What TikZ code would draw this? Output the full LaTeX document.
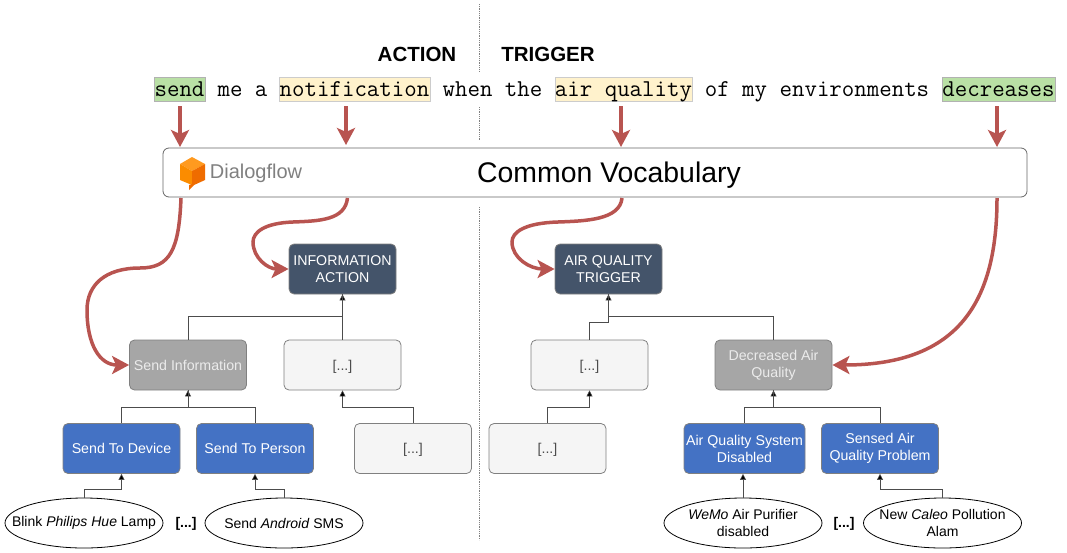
\documentclass[tikz,border=0pt]{standalone}
\usepackage{fontspec}
\setmainfont{Liberation Sans}
\usepackage{tikz}
\usetikzlibrary{arrows.meta,shapes.geometric}
\definecolor{darkbox}{HTML}{44546A}
\definecolor{greybox}{HTML}{A6A6A6}
\definecolor{bluebox}{HTML}{4472C4}
\definecolor{lightbox}{HTML}{F5F5F5}
\definecolor{redarrow}{HTML}{B85450}
\definecolor{greenword}{HTML}{B9E0A5}
\definecolor{yellowword}{HTML}{FFF2CC}
\definecolor{logotop}{HTML}{FF9A1F}
\definecolor{logoleft}{HTML}{FB8C00}
\definecolor{logoright}{HTML}{EF6C00}
\newcommand{\boxfont}{\fontsize{14.2}{17}\selectfont}
\tikzset{
    card/.style={draw=gray, thick, rounded corners=5pt, align=center, inner sep=0pt,
        minimum height=50pt, font=\boxfont},
    topbox/.style={card, fill=darkbox, text=white, minimum width=107pt},
    catbox/.style={card, fill=greybox, text=white!92!black, minimum width=117pt},
    leafbox/.style={card, fill=bluebox, text=white, minimum width=117pt},
    dotsbox/.style={card, fill=lightbox, text=black!70, minimum width=117pt, text depth=0pt},
    sample/.style={draw, thick, ellipse, fill=white, align=center, inner xsep=-24pt, inner ysep=-10pt,
        minimum width=158pt, minimum height=50pt, font=\fontsize{14}{17}\selectfont},
    more/.style={font=\fontsize{14}{17}\selectfont\bfseries},
    word/.style={font=\fontsize{24.2}{26}\selectfont\ttfamily, inner sep=0pt, text height=14pt, text depth=0pt},
    actword/.style={word, draw=gray!60, fill=greenword, minimum height=24pt},
    objword/.style={word, draw=gray!40, fill=yellowword, minimum height=24pt},
    header/.style={font=\fontsize{20.5}{24}\selectfont\bfseries},
    link/.style={draw=black!70, semithick, -{Triangle[length=6pt,width=6pt,fill=black]}},
    plainlink/.style={draw=black!70, semithick},
    bigarrow/.style={draw=redarrow, line width=3.5pt, -{Stealth[length=17pt,width=18pt,inset=4pt]}},
    divider/.style={gray, thick, densely dotted},
}
\begin{document}
\begin{tikzpicture}[x=1pt, y=-1pt]
    \useasboundingbox (0,0) rectangle (1067,552);
    % Divider
    \coordinate (diva) at (479,4);
    \coordinate (divb) at (479,72);
    \coordinate (divc) at (479,107);
    \coordinate (divd) at (479,140);
    \coordinate (dive) at (479,207);
    \coordinate (divf) at (479,540);
    \draw[divider] (diva) -- (divb);
    \draw[divider] (divc) -- (divd);
    \draw[divider] (dive) -- (divf);
    % Headers
    \node[header] (action) at (417,54) {ACTION};
    \node[header] (trigger) at (548,54) {TRIGGER};
    % Sentence
    \node[actword, minimum width=51pt] (send) at (179.5,89.5) {send};
    \node[word] (mea) at (242.5,89.5) {me a};
    \node[objword, minimum width=151pt] (notif) at (354.5,89.5) {notification};
    \node[word] (whenthe) at (492.5,89.5) {when the};
    \node[objword, minimum width=137pt] (airq) at (623.5,89.5) {air quality};
    \node[word] (rest) at (817,89.5) {of my environments};
    \node[actword, minimum width=113pt] (decr) at (998.5,89.5) {decreases};
    % Vocabulary bar
    \node[draw=black!60, thick, fill=white, rounded corners=6pt, minimum width=864pt,
        minimum height=49pt] (vocab) at (595,172.5) {};
    \node[font=\fontsize{28.4}{34}\selectfont] (vocabname) at (609,175) {Common Vocabulary};
    \node[font=\fontsize{20}{24}\selectfont, text=gray] (dialogflow) at (256,173) {Dialogflow};
    % Logo
    \fill[logotop] (192,157) -- (205,164) -- (192,171) -- (180,164) -- cycle;
    \fill[logoleft] (180,164) -- (192,171) -- (192,185) -- (180,180) -- cycle;
    \fill[logoright] (205,164) -- (205,180) -- (194,185) -- (189,190) -- (189,185)
        -- (192,184) -- (192,171) -- cycle;
    % Upper nodes
    \node[topbox] (infoact) at (342.5,269) {INFORMATION\\ACTION};
    \node[topbox] (airtrig) at (608.5,269) {AIR QUALITY\\TRIGGER};
    % Middle nodes
    \node[catbox] (sendinfo) at (188,365) {Send Information};
    \node[dotsbox] (dotsa) at (342.5,365) {[...]};
    \node[dotsbox] (dotsc) at (589.5,365) {[...]};
    \node[catbox] (decair) at (773.5,365) {Decreased Air\\Quality};
    % Lower nodes
    \node[leafbox] (device) at (121.5,448.5) {Send To Device};
    \node[leafbox] (person) at (255,448.5) {Send To Person};
    \node[dotsbox] (dotsb) at (413,448.5) {[...]};
    \node[dotsbox] (dotsd) at (547.5,448.5) {[...]};
    \node[leafbox, minimum width=121pt] (system) at (744.5,448.5) {Air Quality System\\Disabled};
    \node[leafbox] (sensed) at (880,448.5) {Sensed Air\\Quality Problem};
    % Samples
    \node[sample] (blink) at (84,523) {Blink \textit{Philips Hue} Lamp};
    \node[more] (morea) at (186,524) {[...]};
    \node[sample] (android) at (284,523) {Send \textit{Android} SMS};
    \node[sample] (wemo) at (743,523) {\textit{WeMo} Air Purifier\\disabled};
    \node[more] (moreb) at (844,524) {[...]};
    \node[sample] (caleo) at (942.5,523) {New \textit{Caleo} Pollution\\Alam};
    % Hierarchy
    \draw[link] (blink.north) -- ++(0,-8) -| (device.south);
    \draw[link] (android.north) -- ++(0,-8) -| (person.south);
    \draw[link] (wemo.north) -- (wemo.north |- system.south);
    \draw[link] (caleo.north) -- ++(0,-8) -| (sensed.south);
    \draw[link] (device.north) -- ++(0,-16) -| (sendinfo.south);
    \draw[plainlink] (person.north) -- ++(0,-16) -| (sendinfo.south);
    \draw[link] (dotsb.north) -- ++(0,-16) -| (dotsa.south);
    \draw[link] (dotsd.north) -- ++(0,-16) -| (dotsc.south);
    \draw[link] (system.north) -- ++(0,-16) -| (decair.south);
    \draw[plainlink] (sensed.north) -- ++(0,-16) -| (decair.south);
    \draw[link] (dotsa.north) -- (infoact.south);
    \draw[plainlink] (sendinfo.north) -- ++(0,-23) -| (infoact.south);
    \draw[link] (dotsc.north) -- ++(0,-17) -| (airtrig.south);
    \draw[plainlink] (decair.north) -- ++(0,-23) -| (airtrig.south);
    % Red arrows, sentence to bar
    \coordinate (tosenda) at (180,106);
    \coordinate (tosendb) at (180,147);
    \coordinate (tonotifa) at (346,106);
    \coordinate (tonotifb) at (346,145);
    \coordinate (toairqa) at (621,106);
    \coordinate (toairqb) at (621,147);
    \coordinate (todecra) at (997,106);
    \coordinate (todecrb) at (997,147);
    \draw[bigarrow] (tosenda) -- (tosendb);
    \draw[bigarrow] (tonotifa) -- (tonotifb);
    \draw[bigarrow] (toairqa) -- (toairqb);
    \draw[bigarrow] (todecra) -- (todecrb);
    % Red arrows, bar to nodes
    \coordinate (fromsend) at (181,198);
    \coordinate (fromnotif) at (347.5,198);
    \coordinate (fromairq) at (622,198);
    \coordinate (fromdecr) at (997,198);
    \draw[bigarrow] (fromsend) .. controls (179,250) and (170,268) .. (140,268)
        .. controls (105,268) and (87,285) .. (87,310)
        .. controls (87,345) and (100,365) .. (sendinfo.west);
    \draw[bigarrow] (fromnotif) .. controls (345,220) and (320,221) .. (293,222)
        .. controls (265,223) and (253,232) .. (253,242)
        .. controls (253,258) and (268,269) .. (infoact.west);
    \draw[bigarrow] (fromairq) .. controls (620,220) and (585,221) .. (558,222)
        .. controls (525,223) and (512,232) .. (512,242)
        .. controls (512,258) and (530,269) .. (airtrig.west);
    \draw[bigarrow] (fromdecr) .. controls (997,300) and (960,365) .. (decair.east);
\end{tikzpicture}
\end{document}
